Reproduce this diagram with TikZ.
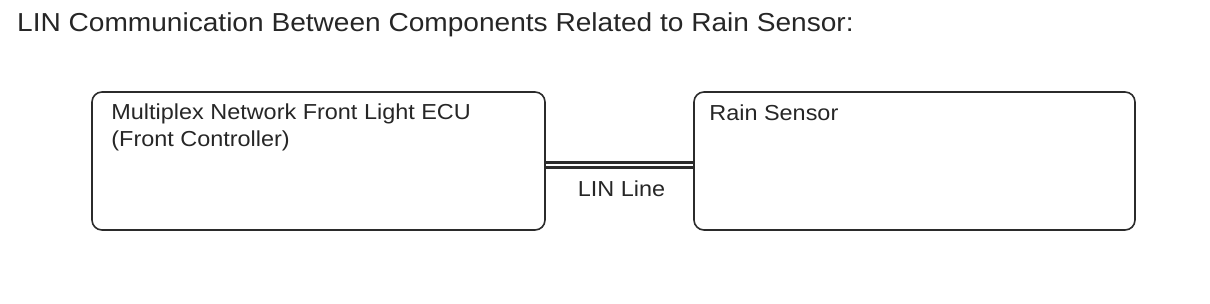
\documentclass[tikz,border=0pt]{standalone}
\usepackage{fontspec}
\setmainfont{Liberation Sans}
\newfontfamily\diagfont[FakeStretch=1.08]{Liberation Sans}
\usepackage{tikz}
\usetikzlibrary{positioning,calc}
\definecolor{LinInk}{HTML}{262626}
\definecolor{LinEdge}{HTML}{2B2B2B}

\begin{document}
\begin{tikzpicture}[
    x=1pt, y=-1pt,
    unit/.style={
      draw=LinEdge,
      line width=1.6pt,
      rounded corners=10pt,
      minimum height=138pt,
      inner sep=0pt
    },
    caption/.style={
      text=LinInk,
      inner sep=0pt,
      align=left,
      font=\diagfont\fontsize{21.7}{27}\selectfont
    },
    linbus/.style={
      draw=LinEdge,
      double=white,
      double distance=2.6pt,
      line width=3pt
    }
  ]
  \useasboundingbox (0,0) rectangle (1210,304);

  % Title
  \node[caption, anchor=base west, font=\diagfont\fontsize{26}{31}\selectfont]
    (title) at (17,32) {LIN Communication Between Components Related to Rain Sensor:};

  % Components
  \node[unit, minimum width=453pt] (ecu)    at (318.5,161) {};
  \node[unit, minimum width=441pt] (sensor) at (914.5,161) {};

  % base of a two-line caption sits on its last line
  \node[caption, anchor=base west] (ecutext) at ($(ecu.north west)+(20,55)$)
    {Multiplex Network Front Light ECU\\(Front Controller)};
  \node[caption, anchor=base west] (sensortext) at ($(sensor.north west)+(16,29)$)
    {Rain Sensor};

  % LIN bus
  \draw[linbus] ([yshift=-4pt]ecu.east) -- ([yshift=-4pt]sensor.west)
    node[caption, midway, anchor=base, xshift=2pt, yshift=-32pt] (lin) {LIN Line};

\end{tikzpicture}
\end{document}
